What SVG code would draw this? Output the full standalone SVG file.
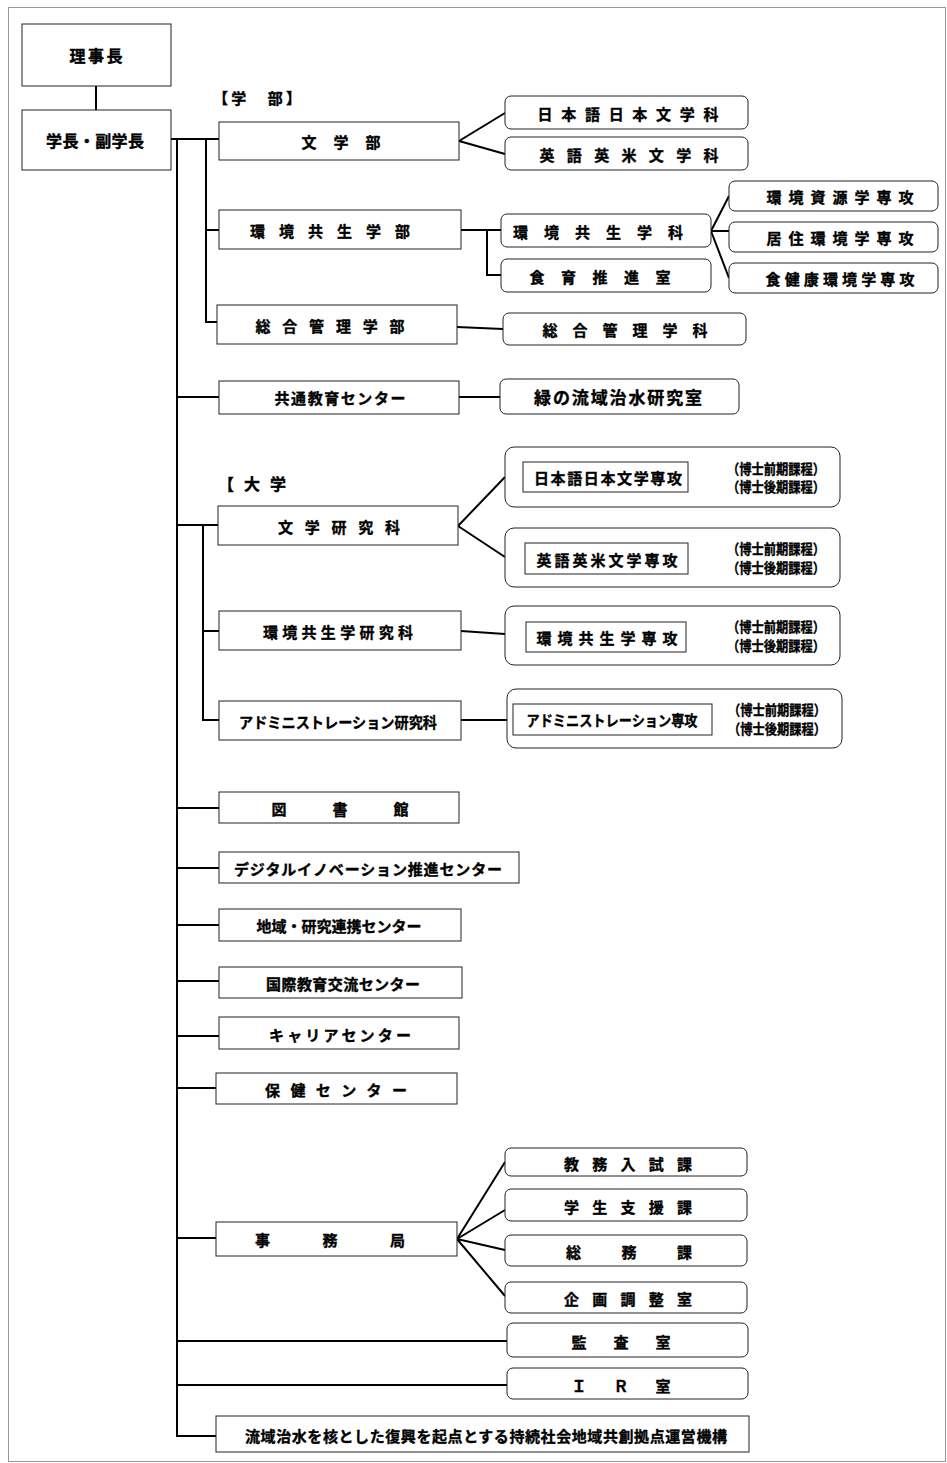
<svg xmlns="http://www.w3.org/2000/svg" width="947" height="1463" viewBox="0 0 947 1463">
<style>
.b{fill:#fff;stroke:#222;stroke-width:1}
.t{font-family:"Noto Sans CJK JP","Noto Sans CJK SC",sans-serif;font-weight:700;font-size:15px;text-anchor:middle;dominant-baseline:central;fill:#000;stroke:#000;stroke-width:0.35px}
.s{font-size:14px}
.l{font-size:16px}
.c{stroke:#000;stroke-width:2;fill:none}
.f{fill:none;stroke:#999;stroke-width:1}
</style>
<rect class="f" x="8.5" y="7.5" width="937" height="1454"/>
<g id="connectors">
<path class="c" d="M96,86V110"/>
<path class="c" d="M171,139H219"/>
<path class="c" d="M177,139V1436H216"/>
<path class="c" d="M206,139V322H217"/>
<path class="c" d="M206,230H219"/>
<path class="c" d="M459,141L505,113M459,141L505,154"/>
<path class="c" d="M461,230H501M487,230V275H501"/>
<path class="c" d="M711,231L729,196M711,231H729M711,231L729,278"/>
<path class="c" d="M457,327L503,329"/>
<path class="c" d="M177,397H219M459,397H500"/>
<path class="c" d="M177,525H218M203,525V720H219M203,631H219"/>
<path class="c" d="M458,526L505,477M458,526L505,557"/>
<path class="c" d="M461,631L505,634M461,720H507"/>
<path class="c" d="M177,808H219M177,868H219M177,925H219M177,981H219M177,1036H219M177,1088H216M177,1238H216"/>
<path class="c" d="M457,1239L505,1162M457,1239L505,1210M457,1239L505,1250M457,1239L505,1296"/>
<path class="c" d="M177,1341H507M177,1385H507"/>
</g>
<g id="rijicho"><rect class="b" x="22" y="24" width="149" height="62"/><text class="t l" x="96" y="55" textLength="53">理事長</text></g>
<g id="gakucho"><rect class="b" x="22" y="110" width="149" height="60"/><text class="t l" x="95" y="140" textLength="98">学長・副学長</text></g>
<g id="label-gakubu"><text class="t" x="213" y="97" style="text-anchor:start" textLength="88">【学　部】</text></g>
<g id="bungakubu"><rect class="b" x="219" y="122" width="240" height="38"/><text class="t" x="341" y="141" textLength="79">文学部</text></g>
<g id="nihongo"><rect class="b" x="505" y="96" width="243" height="33" rx="6"/><text class="t" x="628" y="113" textLength="181">日本語日本文学科</text></g>
<g id="eigo"><rect class="b" x="505" y="137" width="243" height="33" rx="6"/><text class="t" x="629" y="154" textLength="179">英語英米文学科</text></g>
<g id="kankyogakubu"><rect class="b" x="219" y="210" width="242" height="39"/><text class="t" x="330" y="230" textLength="160">環境共生学部</text></g>
<g id="kankyogakka"><rect class="b" x="501" y="214" width="210" height="33" rx="6"/><text class="t" x="598" y="231" textLength="170">環境共生学科</text></g>
<g id="shokuiku"><rect class="b" x="501" y="259" width="210" height="33" rx="6"/><text class="t" x="600" y="276" textLength="141">食育推進室</text></g>
<g id="shigen"><rect class="b" x="729" y="181" width="209" height="30" rx="6"/><text class="t" x="840" y="196" textLength="147">環境資源学専攻</text></g>
<g id="kyoju"><rect class="b" x="729" y="222" width="209" height="30" rx="6"/><text class="t" x="840" y="237" textLength="147">居住環境学専攻</text></g>
<g id="shokukenko"><rect class="b" x="729" y="263" width="209" height="30" rx="6"/><text class="t" x="840" y="278" textLength="149">食健康環境学専攻</text></g>
<g id="sogogakubu"><rect class="b" x="217" y="305" width="240" height="39"/><text class="t" x="330" y="325" textLength="149">総合管理学部</text></g>
<g id="sogogakka"><rect class="b" x="503" y="313" width="243" height="32" rx="6"/><text class="t" x="625" y="329" textLength="165">総合管理学科</text></g>
<g id="kyotsu"><rect class="b" x="219" y="381" width="240" height="33"/><text class="t" x="340" y="397" textLength="131">共通教育センター</text></g>
<g id="midori"><rect class="b" x="500" y="379" width="239" height="35" rx="6"/><text class="t" x="618" y="396" style="font-size:17px" textLength="168">緑の流域治水研究室</text></g>
<g id="label-daigakuin"><text class="t l" x="218" y="483" style="text-anchor:start" textLength="68">【大学</text></g>
<g id="bungakukenkyuka"><rect class="b" x="218" y="506" width="240" height="39"/><text class="t" x="339" y="526" textLength="122">文学研究科</text></g>
<g id="nihongo-senko"><rect class="b" x="505" y="447" width="335" height="60" rx="9"/><rect class="b" x="523" y="462" width="165" height="30"/><text class="t" x="608" y="477" textLength="148">日本語日本文学専攻</text><text class="t s" x="776" y="468" textLength="98" lengthAdjust="spacingAndGlyphs">（博士前期課程）</text><text class="t s" x="776" y="486" textLength="98" lengthAdjust="spacingAndGlyphs">（博士後期課程）</text></g>
<g id="eigo-senko"><rect class="b" x="505" y="528" width="335" height="59" rx="9"/><rect class="b" x="525" y="543" width="163" height="31"/><text class="t" x="607" y="559" textLength="141">英語英米文学専攻</text><text class="t s" x="776" y="548" textLength="98" lengthAdjust="spacingAndGlyphs">（博士前期課程）</text><text class="t s" x="776" y="567" textLength="98" lengthAdjust="spacingAndGlyphs">（博士後期課程）</text></g>
<g id="kankyokenkyuka"><rect class="b" x="219" y="611" width="242" height="39"/><text class="t" x="338" y="631" textLength="150">環境共生学研究科</text></g>
<g id="kankyo-senko"><rect class="b" x="505" y="606" width="335" height="59" rx="9"/><rect class="b" x="526" y="622" width="160" height="30"/><text class="t" x="607" y="637" textLength="141">環境共生学専攻</text><text class="t s" x="776" y="626" textLength="98" lengthAdjust="spacingAndGlyphs">（博士前期課程）</text><text class="t s" x="776" y="645" textLength="98" lengthAdjust="spacingAndGlyphs">（博士後期課程）</text></g>
<g id="admin-kenkyuka"><rect class="b" x="219" y="701" width="242" height="39"/><text class="t" x="338" y="721" textLength="198" lengthAdjust="spacingAndGlyphs">アドミニストレーション研究科</text></g>
<g id="admin-senko"><rect class="b" x="507" y="689" width="335" height="59" rx="9"/><rect class="b" x="513" y="704" width="199" height="31"/><text class="t" x="612" y="719" textLength="171" lengthAdjust="spacingAndGlyphs">アドミニストレーション専攻</text><text class="t s" x="777" y="709" textLength="98" lengthAdjust="spacingAndGlyphs">（博士前期課程）</text><text class="t s" x="777" y="728" textLength="98" lengthAdjust="spacingAndGlyphs">（博士後期課程）</text></g>
<g id="toshokan"><rect class="b" x="219" y="792" width="240" height="31"/><text class="t" x="340" y="808" textLength="137">図書館</text></g>
<g id="digital"><rect class="b" x="219" y="852" width="300" height="31"/><text class="t" x="368" y="868" textLength="268">デジタルイノベーション推進センター</text></g>
<g id="chiiki"><rect class="b" x="219" y="909" width="242" height="32"/><text class="t" x="339" y="925" textLength="165">地域・研究連携センター</text></g>
<g id="kokusai"><rect class="b" x="219" y="967" width="243" height="31"/><text class="t" x="343" y="983" textLength="154">国際教育交流センター</text></g>
<g id="career"><rect class="b" x="219" y="1017" width="240" height="32"/><text class="t" x="340" y="1034" textLength="142">キャリアセンター</text></g>
<g id="hoken"><rect class="b" x="216" y="1073" width="241" height="31"/><text class="t" x="336" y="1089" textLength="142">保健センター</text></g>
<g id="jimukyoku"><rect class="b" x="216" y="1222" width="241" height="34"/><text class="t" x="330" y="1239" textLength="150">事務局</text></g>
<g id="kyomu"><rect class="b" x="505" y="1148" width="242" height="28" rx="6"/><text class="t" x="628" y="1163" textLength="128">教務入試課</text></g>
<g id="gakusei"><rect class="b" x="505" y="1189" width="242" height="32" rx="6"/><text class="t" x="628" y="1206" textLength="128">学生支援課</text></g>
<g id="somu"><rect class="b" x="505" y="1235" width="242" height="31" rx="6"/><text class="t" x="629" y="1251" textLength="126">総務課</text></g>
<g id="kikaku"><rect class="b" x="505" y="1282" width="242" height="31" rx="6"/><text class="t" x="628" y="1298" textLength="128">企画調整室</text></g>
<g id="kansa"><rect class="b" x="507" y="1323" width="241" height="34" rx="6"/><text class="t" x="621" y="1341" textLength="99">監査室</text></g>
<g id="ir"><rect class="b" x="507" y="1368" width="241" height="31" rx="6"/><text class="t" x="621" y="1385" textLength="99">ＩＲ室</text></g>
<g id="ryuiki"><rect class="b" x="216" y="1416" width="533" height="36"/><text class="t" x="486" y="1435" textLength="482">流域治水を核とした復興を起点とする持続社会地域共創拠点運営機構</text></g>
</svg>
